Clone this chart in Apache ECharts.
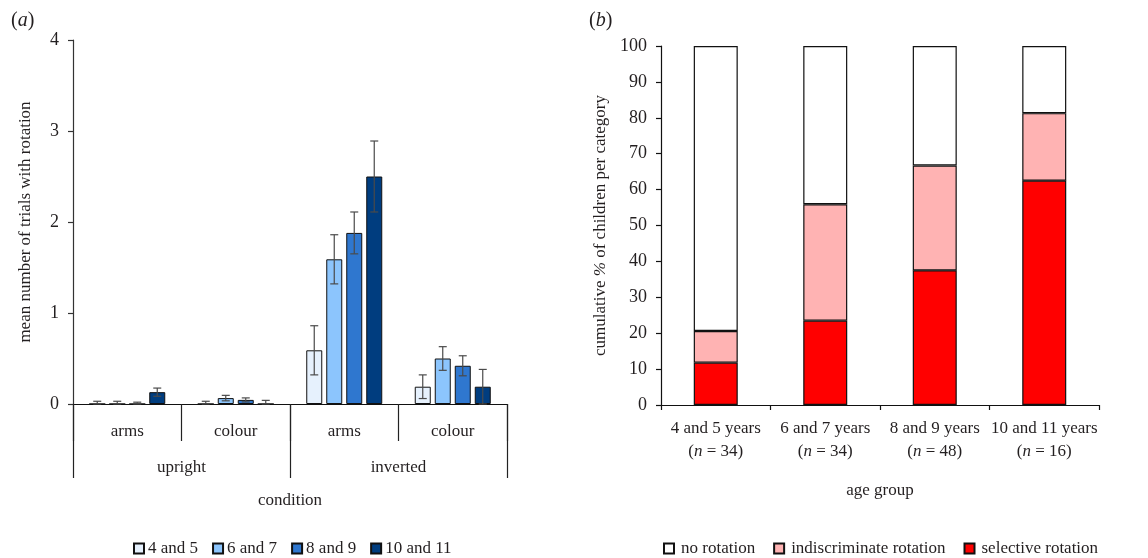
<!DOCTYPE html>
<html>
<head>
<meta charset="utf-8">
<script src="https://cdn.jsdelivr.net/npm/echarts@6/dist/echarts.min.js"></script>
<style>html,body{margin:0;padding:0;background:#fff;}#c{width:1148px;height:558px;}</style>
</head>
<body>
<div id="c"></div>
<script>
// ---- Panel (a) data ----
const conditions = ['arms', 'colour', 'arms', 'colour'];
const orientations = ['upright', 'inverted'];
const ageGroupsA = ['4 and 5', '6 and 7', '8 and 9', '10 and 11'];
const mean45 = [0, 0, 0.59, 0.19];
const mean67 = [0, 0.065, 1.59, 0.50];
const mean89 = [0, 0.045, 1.88, 0.42];
const mean1011 = [0.13, 0, 2.50, 0.19];
const err45 = [0.03, 0.03, 0.27, 0.13];
const err67 = [0.03, 0.03, 0.27, 0.13];
const err89 = [0.02, 0.022, 0.23, 0.11];
const err1011 = [0.045, 0.04, 0.39, 0.19];
const yTicksA = [0, 1, 2, 3, 4];

// ---- Panel (b) data ----
const ageGroupsB = ['4 and 5 years', '6 and 7 years', '8 and 9 years', '10 and 11 years'];
const nB = [34, 34, 48, 16];
const selective = [11.8, 23.5, 37.5, 62.5];
const indiscriminate = [8.8, 32.4, 29.2, 18.8];
const noRotation = [79.4, 44.1, 33.3, 18.7];

const FONT = '"Liberation Serif", "DejaVu Serif", serif';
const TXT = '#231f20';
const FS = 17;
const blues = ['#e6f1fd', '#8cc5fd', '#2f77cf', '#003d7f'];

const meansA = [mean45, mean67, mean89, mean1011];
const errsA = [err45, err67, err89, err1011];
const BAR_W = 16, BAR_GAP = 4;

const barSeriesA = ageGroupsA.map((name, i) => ({
  name: name, type: 'bar', xAxisIndex: 0, yAxisIndex: 0,
  data: meansA[i], barWidth: BAR_W, barGap: '25%',
  itemStyle: { color: blues[i], borderColor: '#111', borderWidth: 1 }
}));

const errData = [];
errsA.forEach((errs, s) => errs.forEach((e, c) => {
  const m = meansA[s][c];
  errData.push([c, Math.max(0, m - e), m + e, s]);
}));

const errorSeries = {
  type: 'custom', xAxisIndex: 0, yAxisIndex: 0, z: 10, silent: true,
  data: errData,
  encode: { x: 0, y: [1, 2] },
  renderItem: function (params, api) {
    const c = api.value(0), s = api.value(3);
    const total = 4 * BAR_W + 3 * BAR_GAP;
    const off = -total / 2 + BAR_W / 2 + s * (BAR_W + BAR_GAP);
    const lo = api.coord([c, api.value(1)]);
    const hi = api.coord([c, api.value(2)]);
    const x = lo[0] + off;
    const style = { stroke: '#4a4a4a', lineWidth: 1.2 };
    const cap = 4;
    return {
      type: 'group', children: [
        { type: 'line', shape: { x1: x, y1: lo[1], x2: x, y2: hi[1] }, style: style },
        { type: 'line', shape: { x1: x - cap, y1: hi[1], x2: x + cap, y2: hi[1] }, style: style },
        { type: 'line', shape: { x1: x - cap, y1: lo[1], x2: x + cap, y2: lo[1] }, style: style }
      ]
    };
  }
};

const bColors = { sel: '#ff0000', ind: '#ffb3b3', none: '#ffffff' };
const stackB = (name, data, color) => ({
  name: name, type: 'bar', stack: 'tot', xAxisIndex: 2, yAxisIndex: 1,
  data: data, barWidth: 44,
  itemStyle: { color: color, borderColor: '#111', borderWidth: 1.2 }
});

const titleRich = {
  p: { fontFamily: FONT, fontSize: 20, fontWeight: 'normal', color: TXT },
  i: { fontFamily: FONT, fontSize: 20, fontWeight: 'normal', fontStyle: 'italic', color: TXT }
};

const chart = echarts.init(document.getElementById('c'), null, { renderer: 'canvas' });
chart.setOption({
  animation: false,
  backgroundColor: '#fff',
  textStyle: { fontFamily: FONT, color: TXT },
  title: [
    { text: '{p|(}{i|a}{p|)}', left: 6, top: 6, textStyle: { fontWeight: 'normal', rich: titleRich } },
    { text: '{p|(}{i|b}{p|)}', left: 584, top: 6, textStyle: { fontWeight: 'normal', rich: titleRich } }
  ],
  legend: [
    { data: ageGroupsA, left: 133, top: 540, padding: 0, itemWidth: 10, itemHeight: 10, itemGap: 14,
      icon: 'rect', textStyle: { fontFamily: FONT, fontSize: FS, color: TXT, padding: [0, 0, 0, -1] } },
    { data: ['no rotation', 'indiscriminate rotation', 'selective rotation'], left: 663, top: 540, padding: 0,
      itemWidth: 10, itemHeight: 10, itemGap: 18, icon: 'rect',
      textStyle: { fontFamily: FONT, fontSize: FS, color: TXT, padding: [0, 0, 0, 2] } }
  ],
  grid: [
    { left: 73, top: 40, width: 434, height: 364 },
    { left: 661, top: 46, width: 438, height: 359 }
  ],
  xAxis: [
    { type: 'category', gridIndex: 0, data: conditions, position: 'bottom',
      axisLine: { lineStyle: { color: '#111', width: 1.2 } },
      axisTick: { show: true, length: 37, lineStyle: { color: '#222', width: 1.2 } },
      axisLabel: { fontFamily: FONT, fontSize: FS, color: TXT, margin: 19, interval: 0 } },
    { type: 'category', gridIndex: 0, data: orientations, position: 'bottom',
      axisLine: { show: false },
      axisTick: { show: true, length: 74, lineStyle: { color: '#222', width: 1.2 } },
      axisLabel: { fontFamily: FONT, fontSize: FS, color: TXT, margin: 55, interval: 0 },
      name: 'condition', nameLocation: 'middle', nameGap: 88,
      nameTextStyle: { fontFamily: FONT, fontSize: FS, color: TXT } },
    { type: 'category', gridIndex: 1, data: ageGroupsB,
      axisLine: { lineStyle: { color: '#111', width: 1.2 } },
      axisTick: { show: true, length: 5, lineStyle: { color: '#111', width: 1.2 } },
      axisLabel: { interval: 0, margin: 12, lineHeight: 23,
        formatter: function (v, idx) { return '{a|' + v + '}\n{a|(}{i|n}{a| = ' + nB[idx] + ')}'; },
        rich: { a: { fontFamily: FONT, fontSize: FS, color: TXT, lineHeight: 23 },
                i: { fontFamily: FONT, fontSize: FS, fontStyle: 'italic', color: TXT, lineHeight: 23 } } },
      name: 'age group', nameLocation: 'middle', nameGap: 77,
      nameTextStyle: { fontFamily: FONT, fontSize: FS, color: TXT } }
  ],
  yAxis: [
    { type: 'value', gridIndex: 0, min: 0, max: 4, interval: 1,
      axisLine: { show: true, lineStyle: { color: '#333', width: 1.2 } },
      axisTick: { show: true, length: 5, lineStyle: { color: '#333', width: 1.2 } },
      splitLine: { show: false },
      axisLabel: { fontFamily: FONT, fontSize: 18, color: TXT, margin: 14,
        customValues: yTicksA },
      name: 'mean number of trials with rotation', nameLocation: 'middle', nameGap: 39,
      nameTextStyle: { fontFamily: FONT, fontSize: FS, color: TXT } },
    { type: 'value', gridIndex: 1, min: 0, max: 100, interval: 10,
      axisLine: { show: true, lineStyle: { color: '#111', width: 1.2 } },
      axisTick: { show: true, length: 5, lineStyle: { color: '#111', width: 1.2 } },
      splitLine: { show: false },
      axisLabel: { fontFamily: FONT, fontSize: 18, color: TXT, margin: 14 },
      name: '{a|cumulative }{i|%}{a| of children per category}', nameLocation: 'middle', nameGap: 52,
      nameTextStyle: { rich: { a: { fontFamily: FONT, fontSize: FS, color: TXT },
                               i: { fontFamily: FONT, fontSize: FS, fontStyle: 'italic', color: TXT } } } }
  ],
  series: barSeriesA.concat([errorSeries,
    stackB('selective rotation', selective, bColors.sel),
    stackB('indiscriminate rotation', indiscriminate, bColors.ind),
    stackB('no rotation', noRotation, bColors.none)
  ])
});
</script>
</body>
</html>
